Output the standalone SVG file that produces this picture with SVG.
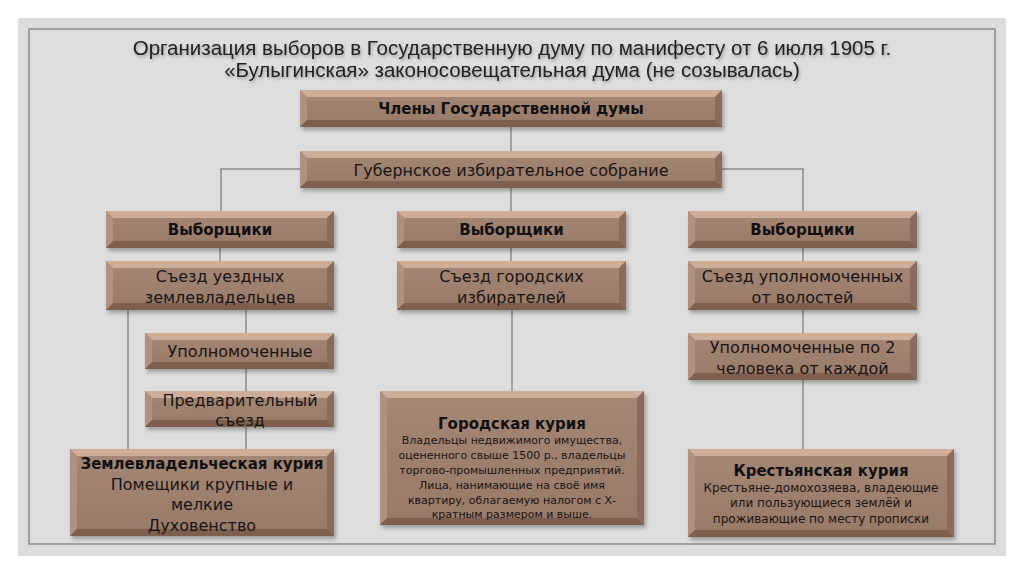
<svg xmlns="http://www.w3.org/2000/svg" width="1024" height="574" viewBox="0 0 1024 574">
<style>
.face{fill:url(#faceG)}
.bt{fill:#cfae99}
.bl{fill:#b09180}
.br{fill:#8a6b5b}
.bb{fill:#7c5f4f}
.t{font-family:"DejaVu Sans","Liberation Sans",sans-serif;fill:#1a1412;text-anchor:middle}
.b{font-weight:bold;font-size:15px;fill:#111}
.r{font-size:16px}
.s{font-size:11px}
.m{font-size:12px}
.title{font-family:"Liberation Sans",Arial,sans-serif;font-size:20.5px;fill:#222;text-anchor:middle}
.ln{stroke:#8c8c8c;stroke-width:1.5;fill:none}
</style>
<defs>
<linearGradient id="faceG" x1="0" y1="0" x2="0" y2="1">
<stop offset="0" stop-color="#a58775"/>
<stop offset="1" stop-color="#977968"/>
</linearGradient>
<filter id="sh" x="-10%" y="-20%" width="125%" height="150%">
<feDropShadow dx="2" dy="3" stdDeviation="2" flood-color="#000" flood-opacity="0.3"/>
</filter>
<filter id="tsh" x="-5%" y="-50%" width="110%" height="200%">
<feDropShadow dx="1" dy="2" stdDeviation="1.5" flood-color="#000" flood-opacity="0.3"/>
</filter>
</defs>
<rect x="0" y="0" width="1024" height="574" fill="#ffffff"/>
<rect x="18" y="18" width="988" height="538" fill="#dcdcdc"/>
<rect x="29" y="29" width="966" height="515" fill="#dedede" stroke="#8a8a8a" stroke-width="1.5"/>
<g id="title" filter="url(#tsh)">
<text class="title" x="512" y="55">Организация выборов в Государственную думу по манифесту от 6 июля 1905 г.</text>
<text class="title" x="512" y="77">«Булыгинская» законосовещательная дума (не созывалась)</text>
</g>
<g id="connectors">
<line class="ln" x1="511" y1="127" x2="511" y2="151"/>
<polyline class="ln" points="221,211 221,169 803,169 803,211"/>
<line class="ln" x1="511" y1="188" x2="511" y2="211"/>
<line class="ln" x1="220" y1="248" x2="220" y2="261"/>
<line class="ln" x1="511" y1="248" x2="511" y2="261"/>
<line class="ln" x1="803" y1="248" x2="803" y2="261"/>
<line class="ln" x1="128" y1="310" x2="128" y2="449"/>
<line class="ln" x1="246" y1="310" x2="246" y2="333"/>
<line class="ln" x1="246" y1="369" x2="246" y2="391"/>
<line class="ln" x1="246" y1="427" x2="246" y2="449"/>
<line class="ln" x1="512" y1="310" x2="512" y2="391"/>
<line class="ln" x1="803" y1="310" x2="803" y2="333"/>
<line class="ln" x1="803" y1="380" x2="803" y2="449"/>
</g>
<g id="members">
<rect class="face" x="300" y="90" width="422" height="37" filter="url(#sh)"/>
<polygon class="bt" points="300,90 722,90 715,97 307,97"/>
<polygon class="bl" points="300,90 307,97 307,120 300,127"/>
<polygon class="br" points="722,90 722,127 715,120 715,97"/>
<polygon class="bb" points="300,127 307,120 715,120 722,127"/>
<text class="t b" x="511" y="114">Члены Государственной думы</text>
</g>
<g id="gubern">
<rect class="face" x="300" y="151" width="422" height="37" filter="url(#sh)"/>
<polygon class="bt" points="300,151 722,151 715,158 307,158"/>
<polygon class="bl" points="300,151 307,158 307,181 300,188"/>
<polygon class="br" points="722,151 722,188 715,181 715,158"/>
<polygon class="bb" points="300,188 307,181 715,181 722,188"/>
<text class="t r" x="511" y="176">Губернское избирательное собрание</text>
</g>
<g id="elect-left">
<rect class="face" x="106" y="211" width="228" height="37" filter="url(#sh)"/>
<polygon class="bt" points="106,211 334,211 327,218 113,218"/>
<polygon class="bl" points="106,211 113,218 113,241 106,248"/>
<polygon class="br" points="334,211 334,248 327,241 327,218"/>
<polygon class="bb" points="106,248 113,241 327,241 334,248"/>
<text class="t b" x="220" y="235">Выборщики</text>
</g>
<g id="elect-mid">
<rect class="face" x="397" y="211" width="229" height="37" filter="url(#sh)"/>
<polygon class="bt" points="397,211 626,211 619,218 404,218"/>
<polygon class="bl" points="397,211 404,218 404,241 397,248"/>
<polygon class="br" points="626,211 626,248 619,241 619,218"/>
<polygon class="bb" points="397,248 404,241 619,241 626,248"/>
<text class="t b" x="511.5" y="235">Выборщики</text>
</g>
<g id="elect-right">
<rect class="face" x="688" y="211" width="229" height="37" filter="url(#sh)"/>
<polygon class="bt" points="688,211 917,211 910,218 695,218"/>
<polygon class="bl" points="688,211 695,218 695,241 688,248"/>
<polygon class="br" points="917,211 917,248 910,241 910,218"/>
<polygon class="bb" points="688,248 695,241 910,241 917,248"/>
<text class="t b" x="802.5" y="235">Выборщики</text>
</g>
<g id="congress-left">
<rect class="face" x="106" y="261" width="228" height="49" filter="url(#sh)"/>
<polygon class="bt" points="106,261 334,261 327,268 113,268"/>
<polygon class="bl" points="106,261 113,268 113,303 106,310"/>
<polygon class="br" points="334,261 334,310 327,303 327,268"/>
<polygon class="bb" points="106,310 113,303 327,303 334,310"/>
<text class="t r" x="220" y="282">Съезд уездных</text>
<text class="t r" x="220" y="303">землевладельцев</text>
</g>
<g id="congress-mid">
<rect class="face" x="397" y="261" width="229" height="49" filter="url(#sh)"/>
<polygon class="bt" points="397,261 626,261 619,268 404,268"/>
<polygon class="bl" points="397,261 404,268 404,303 397,310"/>
<polygon class="br" points="626,261 626,310 619,303 619,268"/>
<polygon class="bb" points="397,310 404,303 619,303 626,310"/>
<text class="t r" x="511.5" y="282">Съезд городских</text>
<text class="t r" x="511.5" y="303">избирателей</text>
</g>
<g id="congress-right">
<rect class="face" x="688" y="261" width="229" height="49" filter="url(#sh)"/>
<polygon class="bt" points="688,261 917,261 910,268 695,268"/>
<polygon class="bl" points="688,261 695,268 695,303 688,310"/>
<polygon class="br" points="917,261 917,310 910,303 910,268"/>
<polygon class="bb" points="688,310 695,303 910,303 917,310"/>
<text class="t r" x="802.5" y="282">Съезд уполномоченных</text>
<text class="t r" x="802.5" y="303">от волостей</text>
</g>
<g id="authorized-left">
<rect class="face" x="145" y="333" width="189" height="36" filter="url(#sh)"/>
<polygon class="bt" points="145,333 334,333 327,340 152,340"/>
<polygon class="bl" points="145,333 152,340 152,362 145,369"/>
<polygon class="br" points="334,333 334,369 327,362 327,340"/>
<polygon class="bb" points="145,369 152,362 327,362 334,369"/>
<text class="t r" x="240" y="357">Уполномоченные</text>
</g>
<g id="preliminary">
<rect class="face" x="145" y="391" width="189" height="36" filter="url(#sh)"/>
<polygon class="bt" points="145,391 334,391 327,398 152,398"/>
<polygon class="bl" points="145,391 152,398 152,420 145,427"/>
<polygon class="br" points="334,391 334,427 327,420 327,398"/>
<polygon class="bb" points="145,427 152,420 327,420 334,427"/>
<text class="t r" x="240" y="406">Предварительный</text>
<text class="t r" x="240" y="426">съезд</text>
</g>
<g id="land-curia">
<rect class="face" x="70" y="449" width="264" height="87" filter="url(#sh)"/>
<polygon class="bt" points="70,449 334,449 327,456 77,456"/>
<polygon class="bl" points="70,449 77,456 77,529 70,536"/>
<polygon class="br" points="334,449 334,536 327,529 327,456"/>
<polygon class="bb" points="70,536 77,529 327,529 334,536"/>
<text class="t b" x="202" y="469">Землевладельческая курия</text>
<text class="t r" x="202" y="490">Помещики крупные и</text>
<text class="t r" x="202" y="510">мелкие</text>
<text class="t r" x="202" y="531">Духовенство</text>
</g>
<g id="city-curia">
<rect class="face" x="380" y="391" width="264" height="134" filter="url(#sh)"/>
<polygon class="bt" points="380,391 644,391 637,398 387,398"/>
<polygon class="bl" points="380,391 387,398 387,518 380,525"/>
<polygon class="br" points="644,391 644,525 637,518 637,398"/>
<polygon class="bb" points="380,525 387,518 637,518 644,525"/>
<text class="t b" x="512" y="429">Городская курия</text>
<text class="t s" x="512" y="444">Владельцы недвижимого имущества,</text>
<text class="t s" x="512" y="459">оцененного свыше 1500 р., владельцы</text>
<text class="t s" x="512" y="474">торгово-промышленных предприятий.</text>
<text class="t s" x="512" y="489">Лица, нанимающие на своё имя</text>
<text class="t s" x="512" y="504">квартиру, облагаемую налогом с Х-</text>
<text class="t s" x="512" y="518">кратным размером и выше.</text>
</g>
<g id="authorized-right">
<rect class="face" x="688" y="333" width="229" height="47" filter="url(#sh)"/>
<polygon class="bt" points="688,333 917,333 910,340 695,340"/>
<polygon class="bl" points="688,333 695,340 695,373 688,380"/>
<polygon class="br" points="917,333 917,380 910,373 910,340"/>
<polygon class="bb" points="688,380 695,373 910,373 917,380"/>
<text class="t r" x="802.5" y="353">Уполномоченные по 2</text>
<text class="t r" x="802.5" y="374">человека от каждой</text>
</g>
<g id="peasant-curia">
<rect class="face" x="688" y="449" width="266" height="88" filter="url(#sh)"/>
<polygon class="bt" points="688,449 954,449 947,456 695,456"/>
<polygon class="bl" points="688,449 695,456 695,530 688,537"/>
<polygon class="br" points="954,449 954,537 947,530 947,456"/>
<polygon class="bb" points="688,537 695,530 947,530 954,537"/>
<text class="t b" x="821" y="476">Крестьянская курия</text>
<text class="t m" x="821" y="492">Крестьяне-домохозяева, владеющие</text>
<text class="t m" x="821" y="507">или пользующиеся землёй и</text>
<text class="t m" x="821" y="523">проживающие по месту прописки</text>
</g>
</svg>
